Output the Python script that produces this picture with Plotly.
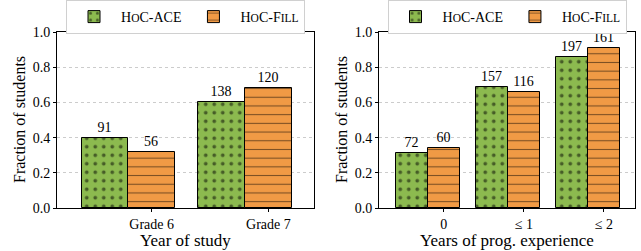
import plotly.graph_objects as go

# Data
left_categories = ["Grade 6", "Grade 7"]
left_ace = [0.40, 0.60]
left_fill = [0.32, 0.68]
left_ace_counts = ["91", "138"]
left_fill_counts = ["56", "120"]

right_categories = ["0", "≤ 1", "≤ 2"]
right_ace = [0.31, 0.69, 0.86]
right_fill = [0.34, 0.66, 0.91]
right_ace_counts = ["72", "157", "197"]
right_fill_counts = ["60", "116", "161"]

y_ticks = [0.0, 0.2, 0.4, 0.6, 0.8, 1.0]

GREEN = "#8cba4f"
ORANGE = "#f09a45"
FONT = "Liberation Serif"
SC = "font-size:11.5px"
ACE_NAME = f"H<span style='{SC}'>O</span>C-ACE"
FILL_NAME = f"H<span style='{SC}'>O</span>C-F<span style='{SC}'>ILL</span>"

W = 641
H = 251

fig = go.Figure()

def add_group(cats, ace, fill, ace_c, fill_c, xa, ya, legend):
    n = len(cats)
    pos = list(range(n))
    fig.add_trace(go.Bar(
        x=[p - 0.2 for p in pos], y=ace, width=0.4, name=ACE_NAME,
        text=ace_c, textposition="outside", cliponaxis=False,
        textfont=dict(family=FONT, size=14, color="black"),
        marker=dict(color=GREEN, line=dict(color="black", width=1),
                    pattern=dict(shape=".", fgcolor="black", bgcolor=GREEN, size=8.5, solidity=0.15)),
        xaxis=xa, yaxis=ya, legend=legend, hoverinfo="skip"))
    fig.add_trace(go.Bar(
        x=[p + 0.2 for p in pos], y=fill, width=0.4, name=FILL_NAME,
        text=fill_c, textposition="outside", cliponaxis=False,
        textfont=dict(family=FONT, size=14, color="black"),
        marker=dict(color=ORANGE, line=dict(color="black", width=1),
                    pattern=dict(shape="-", fgcolor="black", bgcolor=ORANGE, size=8.7, solidity=0.12)),
        xaxis=xa, yaxis=ya, legend=legend, hoverinfo="skip"))

add_group(left_categories, left_ace, left_fill, left_ace_counts, left_fill_counts, "x", "y", "legend")
add_group(right_categories, right_ace, right_fill, right_ace_counts, right_fill_counts, "x2", "y2", "legend2")

ydom = [(H - 208) / H, (H - 32) / H]

def xaxis(dom, cats, anchor):
    n = len(cats)
    return dict(domain=dom, anchor=anchor, range=[-0.61, n - 1 + 0.59],
                tickmode="array", tickvals=[i + 0.2 for i in range(n)], ticktext=cats,
                ticks="outside", ticklen=3, tickcolor="black", ticklabelstandoff=0,
                showline=True, linecolor="black", linewidth=1, mirror=True,
                showgrid=False, zeroline=False,
                tickfont=dict(family=FONT, size=14, color="black"))

def yaxis(anchor):
    return dict(domain=ydom, anchor=anchor, range=[0, 1.0],
                tickmode="array", tickvals=y_ticks, ticktext=[f"{v:.1f}" for v in y_ticks],
                ticks="outside", ticklen=3, tickcolor="black",
                showline=True, linecolor="black", linewidth=1, mirror=True,
                showgrid=True, gridcolor="#cccccc", griddash="dot", gridwidth=1,
                zeroline=False,
                tickfont=dict(family=FONT, size=14, color="black"))

def legend(xc):
    return dict(x=xc, y=1.0, xanchor="center", yanchor="top", orientation="h",
                bordercolor="#d0d0d0", borderwidth=1, bgcolor="white",
                font=dict(family=FONT, size=14, color="black"),
                itemwidth=44, tracegroupgap=0)

title_font = dict(family=FONT, size=17, color="black")
ytitle_font = dict(family=FONT, size=16, color="black")

annotations = [
    dict(text="Year of study", x=(57 + 314) / 2 / W, y=(H - 240) / H, xref="paper", yref="paper",
         xanchor="center", yanchor="middle", showarrow=False, font=title_font),
    dict(text="Years of prog. experience", x=(379 + 635) / 2 / W, y=(H - 240) / H, xref="paper", yref="paper",
         xanchor="center", yanchor="middle", showarrow=False, font=title_font),
    dict(text="Fraction of students", x=19 / W, y=(H - 120) / H, xref="paper", yref="paper",
         xanchor="center", yanchor="middle", textangle=-90, showarrow=False, font=ytitle_font),
    dict(text="Fraction of students", x=341 / W, y=(H - 120) / H, xref="paper", yref="paper",
         xanchor="center", yanchor="middle", textangle=-90, showarrow=False, font=ytitle_font),
]

fig.update_layout(
    width=W, height=H,
    margin=dict(l=0, r=0, t=0, b=0, autoexpand=False),
    paper_bgcolor="white", plot_bgcolor="white",
    barmode="overlay", bargap=0,
    showlegend=True,
    xaxis=xaxis([57 / W, 314 / W], left_categories, "y"),
    yaxis=yaxis("x"),
    xaxis2=xaxis([379 / W, 635 / W], right_categories, "y2"),
    yaxis2=yaxis("x2"),
    legend=legend((57 + 314) / 2 / W),
    legend2=legend((379 + 635) / 2 / W),
    annotations=annotations,
    font=dict(family=FONT, color="black"),
)

fig.write_html("out.html",
               config={"displayModeBar": False},
               post_script="document.body.style.margin='0';document.body.style.overflow='hidden';")
